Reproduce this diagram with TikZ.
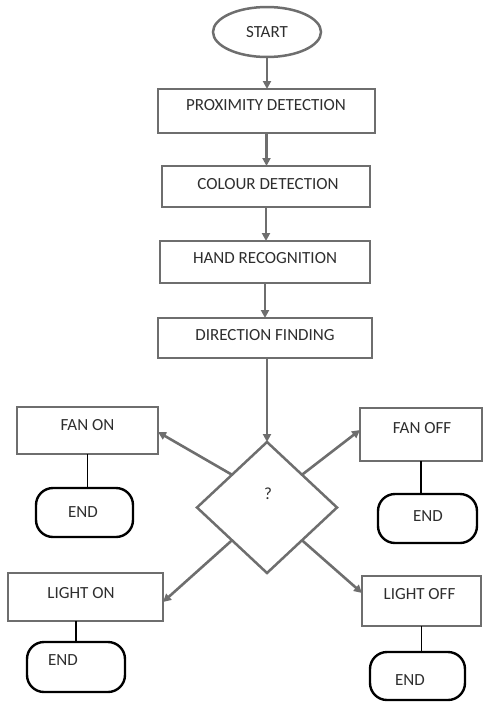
\documentclass[tikz,border=0pt]{standalone}
\usepackage{fontspec}
\setmainfont{Carlito}
\usetikzlibrary{arrows.meta,shapes.geometric}
\definecolor{boxgray}{HTML}{6E6E6E}
\definecolor{txtgray}{HTML}{2E2E2E}
\begin{document}
\begin{tikzpicture}[x=1pt,y=-1pt,
  box/.style={draw=boxgray, line width=2.5pt, rectangle, inner sep=0pt, outer sep=0pt},
  endbox/.style={draw=black, line width=2.4pt, rectangle, rounded corners=17pt, inner sep=0pt, outer sep=0pt},
  txt/.style={anchor=base, inner sep=0pt, font=\fontsize{17}{20}\selectfont, text=txtgray},
  arr/.style={draw=boxgray, line width=2.6pt, -{Triangle[length=8pt,width=8pt]}},
  link/.style={draw=black, line width=1.5pt}]
\useasboundingbox (0,0) rectangle (483,702);

% main column
\node[ellipse, draw=boxgray, line width=2.5pt, minimum width=108pt, minimum height=50pt, inner sep=0pt, outer sep=0pt] (start) at (267,32) {};
\node[txt] (tstart) at (267,37.5) {START};

\node[box, minimum width=217pt, minimum height=44pt] (prox) at (266.5,111) {};
\node[txt] (tprox) at (266,110.5) {PROXIMITY DETECTION};

\node[box, minimum width=208pt, minimum height=41pt] (colour) at (266,186.5) {};
\node[txt] (tcolour) at (268,189.5) {COLOUR DETECTION};

\node[box, minimum width=210pt, minimum height=42pt] (hand) at (265,262) {};
\node[txt] (thand) at (265,263.5) {HAND RECOGNITION};

\node[box, minimum width=214pt, minimum height=40pt] (dir) at (265,338) {};
\node[txt] (tdir) at (265,340) {DIRECTION FINDING};

% decision
\node[diamond, draw=boxgray, line width=2.5pt, minimum width=140pt, minimum height=131pt, inner sep=0pt, outer sep=0pt] (dia) at (267,507.5) {};
\node[txt] (tq) at (268,499) {?};

% outcomes
\node[box, minimum width=141pt, minimum height=47pt] (fanon) at (87.5,430.5) {};
\node[txt] (tfanon) at (87.5,430.5) {FAN ON};

\node[box, minimum width=122pt, minimum height=53pt] (fanoff) at (421,434.5) {};
\node[txt] (tfanoff) at (422,433) {FAN OFF};

\node[box, minimum width=155pt, minimum height=48pt] (lighton) at (85.5,597) {};
\node[txt] (tlighton) at (81,598) {LIGHT ON};

\node[box, minimum width=119pt, minimum height=50pt] (lightoff) at (421.5,601) {};
\node[txt] (tlightoff) at (419.5,599) {LIGHT OFF};

% end terminals
\node[endbox, minimum width=97pt, minimum height=49pt] (end1) at (84.5,512.5) {};
\node[txt] (tend1) at (83,517.5) {END};

\node[endbox, minimum width=99pt, minimum height=49pt] (end2) at (427.5,518.5) {};
\node[txt] (tend2) at (428,521.5) {END};

\node[endbox, minimum width=98pt, minimum height=50pt] (end3) at (76,667) {};
\node[txt] (tend3) at (63,665.5) {END};

\node[endbox, minimum width=95pt, minimum height=48pt] (end4) at (417.5,676) {};
\node[txt] (tend4) at (410,685) {END};

% arrows of the main column
\draw[arr] (start.south) -- (start.south |- prox.north);
\draw[arr] (prox.south) -- (prox.south |- colour.north);
\draw[arr] (colour.south) -- (colour.south |- hand.north);
\draw[arr] (hand.south) -- (hand.south |- dir.north);
\draw[arr] (dia.north |- dir.south) -- (dia.north);

% arrows out of the decision
\draw[arr] (dia.north west) -- ([yshift=-1.5pt]fanon.east);
\draw[arr] (dia.north east) -- ([yshift=4.5pt]fanoff.west);
\draw[arr] (dia.south west) -- ([yshift=-5pt]lighton.east);
\draw[arr] (dia.south east) -- ([yshift=8pt]lightoff.west);

% links to the end terminals
\draw[link] (fanon.south) -- (fanon.south |- end1.north);
\draw[link] (fanoff.south) -- (fanoff.south |- end2.north);
\draw[link] (end3.north |- lighton.south) -- (end3.north);
\draw[link] (lightoff.south) -- (lightoff.south |- end4.north);
\end{tikzpicture}
\end{document}
